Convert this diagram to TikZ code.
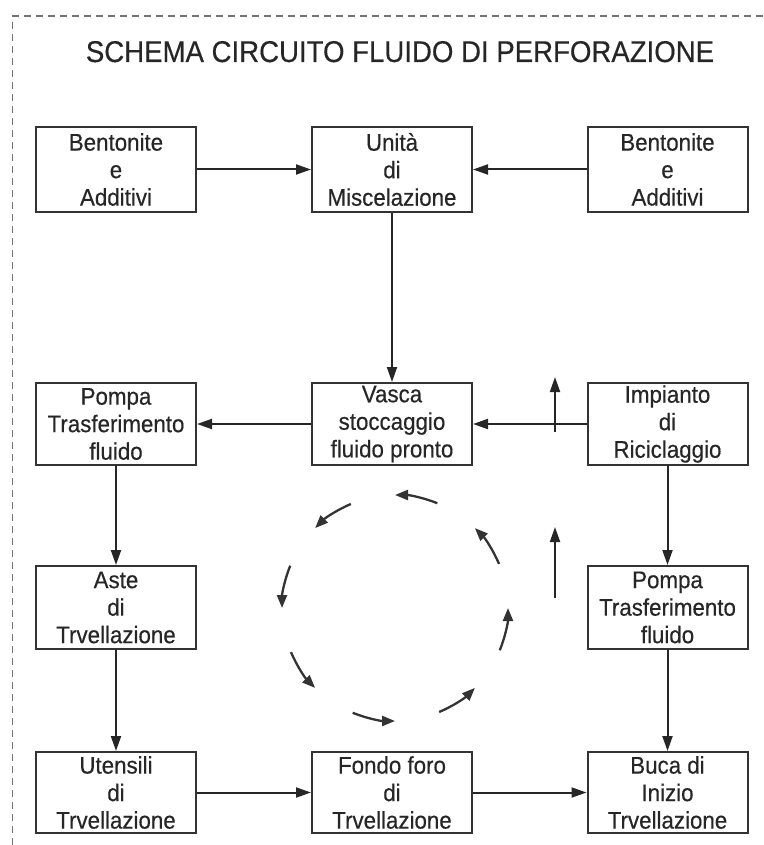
\documentclass[tikz,border=0pt]{standalone}
\usepackage{fontspec}
\setmainfont{Liberation Sans}
\newfontfamily\boxfont{Liberation Sans}[FakeStretch=0.93,FakeBold=0.4]
\newfontfamily\titlefont{Liberation Sans}[FakeStretch=0.92,FakeBold=0.4]
\usetikzlibrary{arrows.meta,calc}
\begin{document}
\begin{tikzpicture}[x=1pt,y=-1pt,
  box/.style={draw=black!80, line width=2pt, minimum width=160pt, inner sep=0pt,
    align=center, font=\boxfont\fontsize{24}{27.5}\selectfont, text=black!85},
  flow/.style={draw=black!85, line width=2pt, -{Triangle[length=15pt,width=10pt]}},
  cyc/.style={draw=black!80, line width=2.3pt, -{Triangle[length=13pt,width=10pt]}},
  frame/.style={draw=black!55, line width=1.3pt, dash pattern=on 7pt off 5pt}]
\useasboundingbox (0,0) rectangle (763,845);
\draw[frame] (12.5,845) -- (12.5,16) -- (763,16);
\node[anchor=base, font=\titlefont\fontsize{30}{36}\selectfont, text=black!85, inner sep=0pt] (title) at (400,62) {SCHEMA CIRCUITO FLUIDO DI PERFORAZIONE};
% row 1
\node[box, minimum height=85pt] (bentL) at (116,169.5) {Bentonite\\e\\Additivi};
\node[box, minimum height=85pt] (unita) at (392,169.5) {Unità\\di\\Miscelazione};
\node[box, minimum height=85pt] (bentR) at (667.5,169.5) {Bentonite\\e\\Additivi};
% row 2
\node[box, minimum height=82pt] (pompaL) at (116,424) {Pompa\\Trasferimento\\fluido};
\node[box, minimum height=82pt] (vasca) at (392,424) {Vasca\\stoccaggio\\fluido pronto};
\node[box, minimum height=82pt] (impianto) at (667.5,424) {Impianto\\di\\Riciclaggio};
% row 3
\node[box, minimum height=83pt] (aste) at (116,607.5) {Aste\\di\\Trvellazione};
\node[box, minimum height=83pt] (pompaR) at (667.5,607.5) {Pompa\\Trasferimento\\fluido};
% row 4
\node[box, minimum height=81pt] (utensili) at (116,792.5) {Utensili\\di\\Trvellazione};
\node[box, minimum height=81pt] (fondo) at (392,792.5) {Fondo foro\\di\\Trvellazione};
\node[box, minimum height=81pt] (buca) at (667.5,792.5) {Buca di\\Inizio\\Trvellazione};
% connectors
\draw[flow] (bentL) -- (unita);
\draw[flow] (bentR) -- (unita);
\draw[flow] (unita) -- (vasca);
\draw[flow] (impianto) -- (vasca);
\draw[flow] (vasca) -- (pompaL);
\draw[flow] (pompaL) -- (aste);
\draw[flow] (aste) -- (utensili);
\draw[flow] (utensili) -- (fondo);
\draw[flow] (fondo) -- (buca);
\draw[flow] (impianto) -- (pompaR);
\draw[flow] (pompaR) -- (buca);
% upward arrows
\coordinate (u1s) at (555,432);
\coordinate (u1e) at (555,377);
\coordinate (u2s) at (555,598);
\coordinate (u2e) at (555,527);
\draw[flow] (u1s) -- (u1e);
\draw[flow] (u2s) -- (u2e);
% circulation arrows
\coordinate (cc) at (395,608);
\foreach \k in {0,...,7} {
  \draw[cyc] ($(cc)+({-(45*\k+23)}:113)$) arc[start angle={-(45*\k+23)}, end angle={-(45*\k+45)}, radius=113];
}
\end{tikzpicture}
\end{document}
